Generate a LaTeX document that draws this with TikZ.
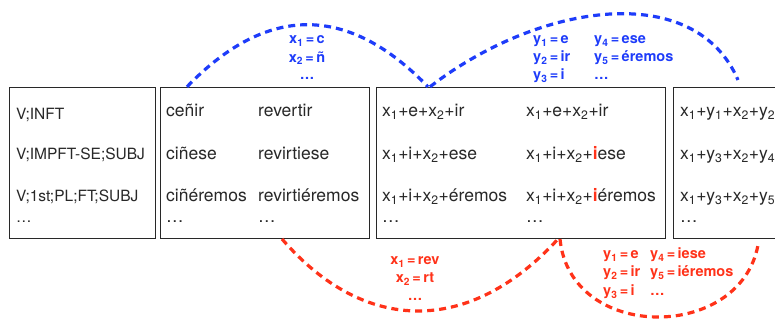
\documentclass[tikz,border=0pt]{standalone}
\usepackage{fontspec}
\setmainfont{TeX Gyre Heros}
\definecolor{arcblue}{RGB}{30,60,250}
\definecolor{arcred}{RGB}{255,50,25}
\definecolor{txt}{RGB}{40,40,40}
\tikzset{
  box/.style={draw=txt, line width=1.2pt, inner sep=0pt, anchor=south west},
  cell/.style={anchor=base west, inner sep=0pt, font=\fontsize{17.5}{19}\selectfont, text=txt},
  tagcell/.style={cell, font=\fontsize{15.5}{18}\selectfont},
  arcline/.style={line width=3.2pt, dash pattern=on 7pt off 5pt},
  bluearc/.style={arcline, draw=arcblue},
  redarc/.style={arcline, draw=arcred},
  blab/.style={inner sep=0pt, font=\fontsize{14.5}{16}\selectfont\bfseries, text=arcblue},
  rlab/.style={inner sep=0pt, font=\fontsize{14.5}{16}\selectfont\bfseries, text=arcred},
}
\newcommand{\xs}[1]{x\textsubscript{#1}}
\newcommand{\ys}[1]{y\textsubscript{#1}}
\newcommand{\ri}{\textcolor{arcred}{\bfseries i}}
\begin{document}
\begin{tikzpicture}[x=1pt,y=1pt]
\useasboundingbox (0,0) rectangle (775,320);
\clip (0,0) rectangle (775,320);
\fill[white] (0,0) rectangle (775,320);
% boxes
\node[box, minimum width=146pt, minimum height=151pt] (b1) at (9,81) {};
\node[box, minimum width=209pt, minimum height=151pt] (b2) at (160,81) {};
\node[box, minimum width=289pt, minimum height=151pt] (b3) at (376,81) {};
\node[box, minimum width=140pt, minimum height=151pt] (b4) at (673,81) {};
% box 1
\node[tagcell] (t11) at (16,200) {V;INFT};
\node[tagcell] (t12) at (16,160) {V;IMPFT-SE;SUBJ};
\node[tagcell] (t13) at (16,118.5) {V;1st;PL;FT;SUBJ};
\node[tagcell] (t14) at (16,97.5) {…};
% box 2
\node[cell] (t21) at (166,203) {ceñir};
\node[cell] (t22) at (166,160) {ciñese};
\node[cell] (t23) at (166,118) {ciñéremos};
\node[cell] (t24) at (166,97) {…};
\node[cell] (t25) at (258,203) {revertir};
\node[cell] (t26) at (258,160) {revirtiese};
\node[cell] (t27) at (258,118) {revirtiéremos};
\node[cell] (t28) at (258,97) {…};
% box 3
\node[cell] (t31) at (382,203) {\xs1+e+\xs2+ir};
\node[cell] (t32) at (382,160) {\xs1+i+\xs2+ese};
\node[cell] (t33) at (382,118) {\xs1+i+\xs2+éremos};
\node[cell] (t34) at (382,97) {…};
\node[cell] (t35) at (526,203) {\xs1+e+\xs2+ir};
\node[cell] (t36) at (526,160) {\xs1+i+\xs2+\ri ese};
\node[cell] (t37) at (526,118) {\xs1+i+\xs2+\ri éremos};
\node[cell] (t38) at (526,97) {…};
% box 4
\node[cell] (t41) at (680,203) {\xs1+\ys1+\xs2+\ys2};
\node[cell] (t42) at (680,160) {\xs1+\ys3+\xs2+\ys4};
\node[cell] (t43) at (680,118) {\xs1+\ys3+\xs2+\ys5};
\node[cell] (t44) at (680,97) {…};
% arcs
\coordinate (e2) at (738,240);
\coordinate (e4) at (758,75);
\draw[bluearc] ([xshift=27pt]b2.north west) .. controls (267,316) and (348,316) .. ([xshift=52pt]b3.north west);
\draw[bluearc] ([xshift=54pt]b3.north west) .. controls (540,318) and (695,340) .. (e2);
\draw[redarc] ([xshift=122pt]b2.south west) .. controls (365,-15) and (470,-15) .. ([xshift=182pt]b3.south west);
\draw[redarc] ([xshift=184pt]b3.south west) .. controls (570,-22) and (740,-22) .. (e4);
% blue labels
\node[blab, anchor=base] (l11) at (307,276) {\xs1\,=\,c};
\node[blab, anchor=base] (l12) at (307,257.5) {\xs2\,=\,ñ};
\node[blab, anchor=base] (l13) at (307,240) {…};
\node[blab, anchor=base west] (l21) at (533,276) {\ys1\,=\,e};
\node[blab, anchor=base west] (l22) at (533,258) {\ys2\,=\,ir};
\node[blab, anchor=base west] (l23) at (533,240) {\ys3\,=\,i};
\node[blab, anchor=base west] (l24) at (594,276) {\ys4\,=\,ese};
\node[blab, anchor=base west] (l25) at (594,258) {\ys5\,=\,éremos};
\node[blab, anchor=base west] (l26) at (594,240) {…};
% red labels
\node[rlab, anchor=base] (r11) at (415,55) {\xs1\,=\,rev};
\node[rlab, anchor=base] (r12) at (415,37) {\xs2\,=\,rt};
\node[rlab, anchor=base] (r13) at (415,19) {…};
\node[rlab, anchor=base west] (r21) at (603,61) {\ys1\,=\,e};
\node[rlab, anchor=base west] (r22) at (603,43) {\ys2\,=\,ir};
\node[rlab, anchor=base west] (r23) at (603,24) {\ys3\,=\,i};
\node[rlab, anchor=base west] (r24) at (650,61) {\ys4\,=\,iese};
\node[rlab, anchor=base west] (r25) at (650,43) {\ys5\,=\,iéremos};
\node[rlab, anchor=base west] (r26) at (650,24) {…};
\end{tikzpicture}
\end{document}
